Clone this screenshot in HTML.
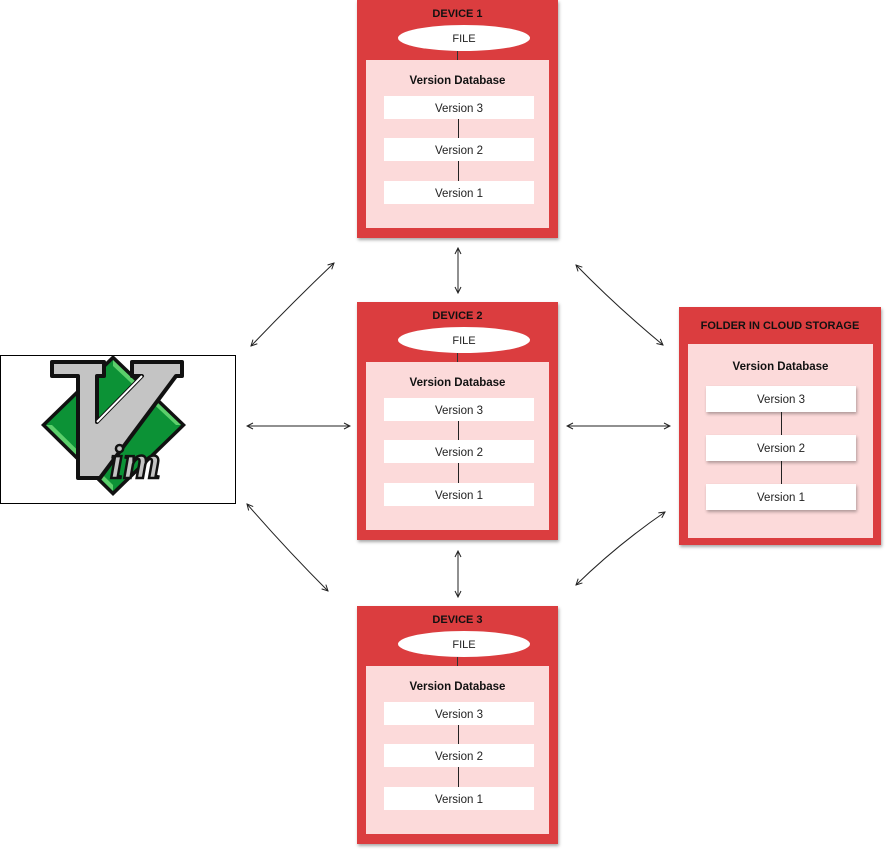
<!DOCTYPE html>
<html><head><meta charset="utf-8"><style>
body{margin:0;width:886px;height:853px;background:#fff;position:relative;overflow:hidden;font-family:"Liberation Sans",sans-serif;}
.dev{position:absolute;left:357px;width:201px;height:238px;background:#db3d3f;box-shadow:1px 2px 3px rgba(0,0,0,.35);}
.dev .t{position:absolute;left:0;right:0;top:8px;text-align:center;font-weight:bold;font-size:11px;color:#111;}
.dev .e{position:absolute;left:41px;top:25px;width:132px;height:26px;border-radius:50%;background:#fff;text-align:center;line-height:28px;font-size:11px;color:#222;}
.dev .ar{position:absolute;left:100px;top:51px;width:1px;height:9px;background:#333;}
.in{position:absolute;background:#fcdada;}
.dev .in{left:9px;top:60px;width:183px;height:168px;}
.in .h{position:absolute;left:0;right:0;text-align:center;font-weight:bold;font-size:11.5px;color:#111;}
.v{position:absolute;background:#fff;text-align:center;font-size:11.5px;color:#222;}
.dev .v{left:18px;width:150px;height:23px;line-height:27px;}
.ln{position:absolute;width:1px;background:#222;}
.cl{position:absolute;left:679px;top:307px;width:202px;height:238px;background:#db3d3f;box-shadow:1px 2px 3px rgba(0,0,0,.35);}
.cl .v{left:18px;width:150px;height:26px;line-height:29px;box-shadow:1px 2px 3px rgba(0,0,0,.3);}
</style></head><body>

<div class="dev" style="top:0">
 <div class="t">DEVICE 1</div><div class="e">FILE</div><div class="ar"></div>
 <div class="in"><div class="h" style="top:15px">Version Database</div>
  <div class="v" style="top:36px">Version 3</div><div class="ln" style="left:92px;top:59px;height:19px"></div>
  <div class="v" style="top:78px">Version 2</div><div class="ln" style="left:92px;top:101px;height:20px"></div>
  <div class="v" style="top:121px">Version 1</div></div>
</div>
<div class="dev" style="top:302px">
 <div class="t">DEVICE 2</div><div class="e">FILE</div><div class="ar"></div>
 <div class="in"><div class="h" style="top:15px">Version Database</div>
  <div class="v" style="top:36px">Version 3</div><div class="ln" style="left:92px;top:59px;height:19px"></div>
  <div class="v" style="top:78px">Version 2</div><div class="ln" style="left:92px;top:101px;height:20px"></div>
  <div class="v" style="top:121px">Version 1</div></div>
</div>
<div class="dev" style="top:606px">
 <div class="t">DEVICE 3</div><div class="e">FILE</div><div class="ar"></div>
 <div class="in"><div class="h" style="top:15px">Version Database</div>
  <div class="v" style="top:36px">Version 3</div><div class="ln" style="left:92px;top:59px;height:19px"></div>
  <div class="v" style="top:78px">Version 2</div><div class="ln" style="left:92px;top:101px;height:20px"></div>
  <div class="v" style="top:121px">Version 1</div></div>
</div>

<div class="cl">
 <div style="position:absolute;left:0;right:0;top:13px;text-align:center;font-weight:bold;font-size:11px;color:#111">FOLDER IN CLOUD STORAGE</div>
 <div class="in" style="left:9px;top:37px;width:185px;height:194px">
  <div class="h" style="top:17px">Version Database</div>
  <div class="v" style="top:42px">Version 3</div><div class="ln" style="left:93px;top:68px;height:23px"></div>
  <div class="v" style="top:91px">Version 2</div><div class="ln" style="left:93px;top:117px;height:23px"></div>
  <div class="v" style="top:140px">Version 1</div></div>
</div>

<div style="position:absolute;left:0;top:355px;width:234px;height:147px;border:1px solid #000;background:#fff"></div>

<svg width="886" height="853" style="position:absolute;left:0;top:0">
 <defs><marker id="a" markerWidth="8" markerHeight="8" refX="7" refY="4" orient="auto-start-reverse" markerUnits="userSpaceOnUse"><path d="M1,1 L7,4 L1,7" fill="none" stroke="#222" stroke-width="1"/></marker></defs>
 <g stroke="#222" stroke-width="1" fill="none" marker-start="url(#a)" marker-end="url(#a)">
  <path d="M458,248 L458,293"/>
  <path d="M458,551 L458,597"/>
  <path d="M247,426 L350,426"/>
  <path d="M567,426 L670,426"/>
  <path d="M251,346 Q293,302 334,263"/>
  <path d="M247,504 Q286,549 328,591"/>
  <path d="M576,265 Q617,307 663,345"/>
  <path d="M576,585 Q617,545 665,512"/>
 </g>
 <!-- vim logo -->
 <polygon points="113,355 186,425 113,496 41,425" fill="#111"/>
 <polygon points="113,360 181,425 113,491 46,425" fill="#0c9236"/>
 <polygon points="113,360 181,425 176,425 113,366" fill="#5ccf6b"/>
 <polygon points="46,425 113,491 113,485 52,425" fill="#5ccf6b"/>
 <path d="M52,362 L104,362 L104,376 L97,376 L97,422 L142,376 L132,376 L132,362 L182,362 L182,376 L176,376 L100,478 L78,478 L78,376 L52,376 Z" fill="#c4c4c4" stroke="#111" stroke-width="4" stroke-linejoin="round"/>
 <path d="M97,422 L142,376" stroke="#fff" stroke-width="2"/>
 <text x="110" y="478" font-family="Liberation Serif,serif" font-style="italic" font-weight="bold" font-size="48" fill="#c4c4c4" stroke="#111" stroke-width="2.5">im</text>
</svg>
</body></html>
